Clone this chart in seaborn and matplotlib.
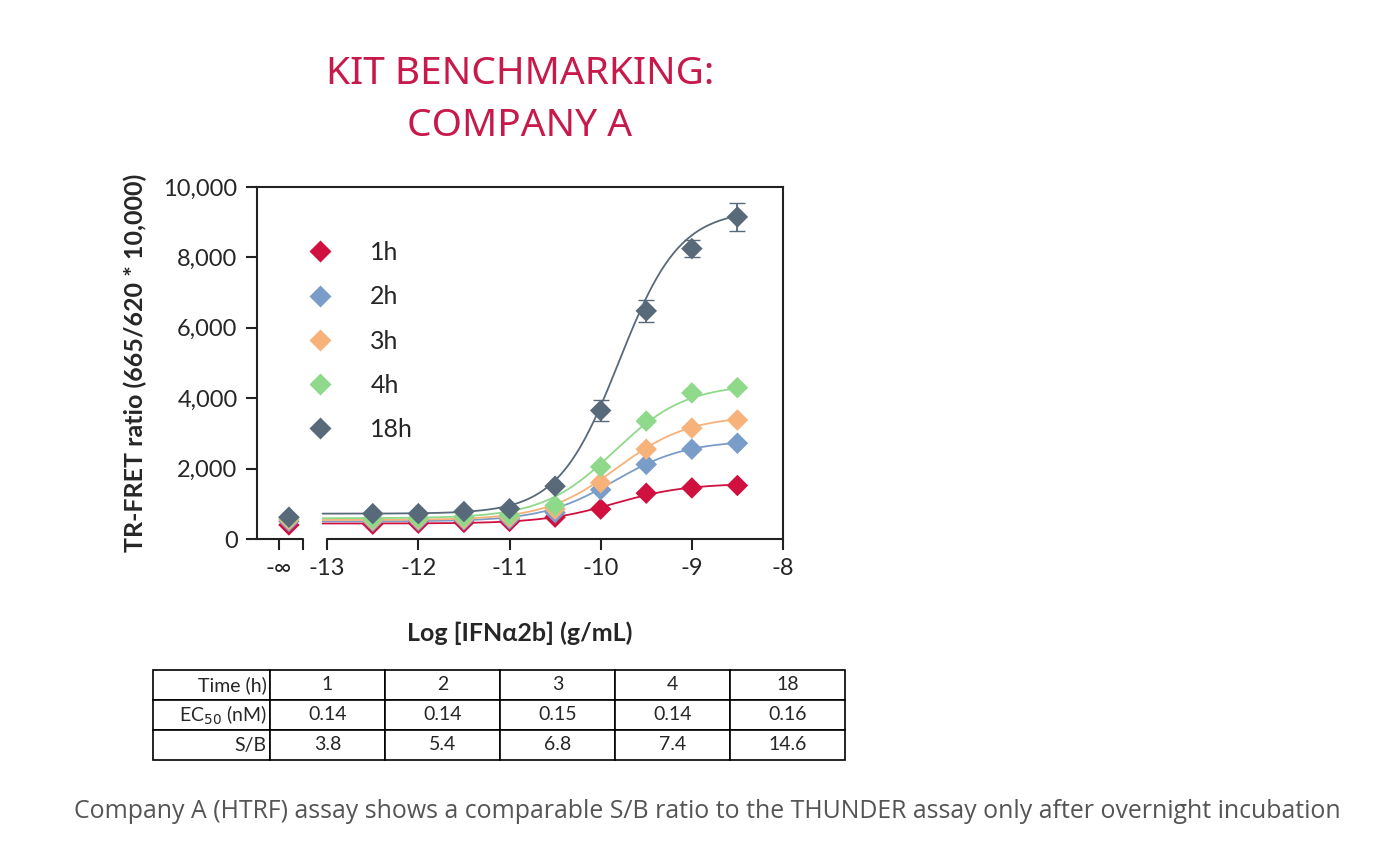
import numpy as np
import pandas as pd
import seaborn as sns
import matplotlib.pyplot as plt

# data
times = ["1h", "2h", "3h", "4h", "18h"]
colors = ["#d0103f", "#7a9cc9", "#f7b27a", "#8fd98a", "#58697a"]
log_conc = [-12.5, -12, -11.5, -11, -10.5, -10, -9.5, -9, -8.5]
zero_pos = -13.42  # where the "-inf" (no IFN) points sit on the broken axis
vals_zero = [400, 500, 550, 600, 620]
vals = {
    "1h": [420, 450, 470, 500, 620, 850, 1300, 1450, 1520],
    "2h": [500, 520, 540, 570, 750, 1400, 2120, 2550, 2720],
    "3h": [540, 560, 580, 620, 850, 1600, 2550, 3150, 3380],
    "4h": [580, 600, 630, 680, 950, 2050, 3350, 4150, 4300],
    "18h": [720, 720, 780, 860, 1500, 3650, 6480, 8250, 9150],
}
err_18h = [0, 0, 0, 0, 0, 300, 320, 250, 400]
# 4PL fit params: bottom, top, logEC50, hill
fits = {
    "1h": (440, 1580, -9.85, 1.1),
    "2h": (500, 2800, -9.85, 1.1),
    "3h": (540, 3500, -9.82, 1.1),
    "4h": (590, 4400, -9.85, 1.1),
    "18h": (720, 9350, -9.8, 1.3),
}
tbl_cols = ["Time (h)", "1", "2", "3", "4", "18"]
tbl_ec50 = ["EC$_{50}$ (nM)", "0.14", "0.14", "0.15", "0.14", "0.16"]
tbl_sb = ["S/B", "3.8", "5.4", "6.8", "7.4", "14.6"]

sns.set_style("ticks")
plt.rcParams["font.family"] = ["Lato", "DejaVu Sans"]

fig = plt.figure(figsize=(13.93, 8.6), dpi=100)
ax = fig.add_axes([257/1393, 1-539/860, 526/1393, 352/860])

rows = []
for i, t in enumerate(times):
    rows.append({"x": zero_pos, "y": vals_zero[i], "time": t})
    for x, y in zip(log_conc, vals[t]):
        rows.append({"x": x, "y": y, "time": t})
df = pd.DataFrame(rows)

xs = np.linspace(-13.05, -8.5, 300)
for t, c in zip(times, colors):
    b, top, ec, h = fits[t]
    ax.plot(xs, b + (top - b) / (1 + 10 ** ((ec - xs) * h)), color=c, lw=1.3, zorder=2)
ax.errorbar(log_conc[5:], vals["18h"][5:], yerr=err_18h[5:], fmt="none",
            ecolor=colors[4], capsize=6, lw=1.3, zorder=3)
sns.scatterplot(data=df, x="x", y="y", hue="time", palette=colors, marker="D",
                s=120, edgecolor="none", ax=ax, zorder=4, legend=True)

ax.set_xlim(-13.77, -8)
ax.set_ylim(0, 10000)
ax.set_xticks([-13.53, -13.27, -13, -12, -11, -10, -9, -8])
ax.set_xticklabels(["-∞", "", "-13", "-12", "-11", "-10", "-9", "-8"])
ax.set_yticks(range(0, 10001, 2000))
ax.set_yticklabels([f"{v:,}" for v in range(0, 10001, 2000)])
ax.tick_params(labelsize=17, width=1.5, length=8, color="#222", pad=6)
for s in ax.spines.values():
    s.set_linewidth(1.5)
    s.set_color("#222")
ax.spines["bottom"].set_visible(False)
tr = ax.get_xaxis_transform()
ax.plot([-13.77, -13.27], [0, 0], color="#222", lw=1.5, transform=tr, clip_on=False)
ax.plot([-13.0, -8], [0, 0], color="#222", lw=1.5, transform=tr, clip_on=False)

ax.set_xlabel("Log [IFNα2b] (g/mL)", fontsize=18, fontweight="bold", labelpad=30)
ax.set_ylabel("TR-FRET ratio (665/620 * 10,000)", fontsize=18, fontweight="bold", labelpad=12)

leg = ax.legend(loc="upper left", bbox_to_anchor=(0.03, 0.91), frameon=False,
                fontsize=18, labelspacing=0.85, handletextpad=1.0, markerscale=1.0)

fig.text(520/1393, 1-100/860, "KIT BENCHMARKING:\nCOMPANY A", ha="center", va="center",
         fontsize=28, color="#c8194b", linespacing=1.5,
         family=["Noto Sans", "DejaVu Sans"])

tax = fig.add_axes([153/1393, 1-760/860, 692/1393, 90/860])
tax.axis("off")
table = tax.table(cellText=[tbl_cols, tbl_ec50, tbl_sb], loc="center", bbox=[0, 0, 1, 1],
                  colWidths=[117, 115, 115, 115, 115, 115], cellLoc="center")
table.auto_set_font_size(False)
for (r, c), cell in table.get_celld().items():
    cell.set_fontsize(14)
    cell.set_linewidth(1.2)
    if c == 0:
        cell._loc = "right"
        cell.PAD = 0.03
        cell.get_text().set_horizontalalignment("right")

fig.text(707/1393, 1-812/860,
         "Company A (HTRF) assay shows a comparable S/B ratio to the THUNDER assay only after overnight incubation",
         ha="center", va="center", fontsize=17.9, color="#555555", family=["Open Sans", "DejaVu Sans"])

fig.savefig("out.png", dpi=100)
